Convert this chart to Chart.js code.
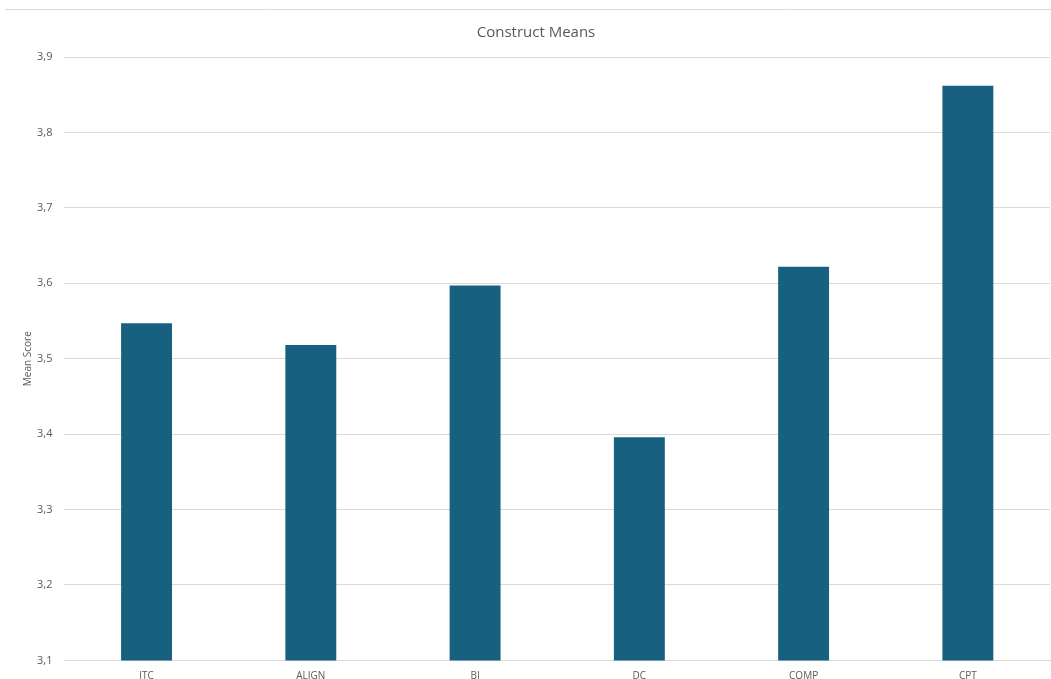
<!DOCTYPE html>
<html>
<head>
<meta charset="utf-8">
<script src="https://cdn.jsdelivr.net/npm/chart.js@4"></script>
<style>
  html, body { margin: 0; padding: 0; background: #ffffff; }
  #wrap { width: 1051px; height: 679px; position: relative; }
</style>
</head>
<body>
<div id="wrap"><canvas id="graficoMedias"></canvas></div>
<script>
const categorias = ["ITC", "ALIGN", "BI", "DC", "COMP", "CPT"];
const medias = [3.547, 3.518, 3.597, 3.396, 3.622, 3.862];
const ticksY = [3.1, 3.2, 3.3, 3.4, 3.5, 3.6, 3.7, 3.8, 3.9];

const lineaSuperior = {
    id: "lineaSuperior",
    beforeDraw(chart) {
        const ctx = chart.ctx;
        ctx.save();
        ctx.strokeStyle = "#d9d9d9";
        ctx.lineWidth = 1;
        ctx.beginPath();
        ctx.moveTo(5, 9.5);
        ctx.lineTo(chart.width, 9.5);
        ctx.stroke();
        ctx.restore();
    },
};

const dataGrafico = {
    labels: categorias,
    datasets: [
        {
            label: "Mean Score",
            backgroundColor: "#17607f",
            data: medias,
            barPercentage: 0.31,
            categoryPercentage: 1,
        },
    ],
};

const configGrafico = {
    type: "bar",
    data: dataGrafico,
    plugins: [lineaSuperior],
    options: {
        responsive: false,
        animation: false,
        layout: { padding: { left: 22, right: 1, top: 24, bottom: -14 } },
        plugins: {
            legend: { display: false },
            tooltip: { enabled: false },
            title: {
                display: true,
                text: "Construct Means",
                color: "#595959",
                font: { size: 15, family: "Open Sans", weight: "normal" },
                padding: { top: 0, bottom: 15 },
            },
        },
        scales: {
            x: {
                grid: { display: false, drawTicks: false },
                border: { color: "#d9d9d9" },
                ticks: {
                    color: "#595959",
                    font: { size: 10, family: "Open Sans" },
                    padding: 10,
                },
            },
            y: {
                min: 3.1,
                max: 3.9,
                afterBuildTicks(axis) {
                    axis.ticks = ticksY.map((v) => ({ value: v }));
                },
                grid: { color: "#d9d9d9", drawTicks: false },
                border: { display: false },
                ticks: {
                    color: "#595959",
                    font: { size: 11, family: "Open Sans" },
                    padding: 12,
                    callback: (v) => v.toFixed(1).replace(".", ","),
                },
                title: {
                    display: true,
                    text: "Mean Score",
                    color: "#595959",
                    font: { size: 10, family: "Open Sans" },
                    padding: { top: 0, bottom: -9 },
                },
            },
        },
    },
};

const canvas = document.getElementById("graficoMedias");
canvas.width = 1051;
canvas.height = 679;
const chartMedias = new Chart(canvas, configGrafico);
</script>
</body>
</html>
